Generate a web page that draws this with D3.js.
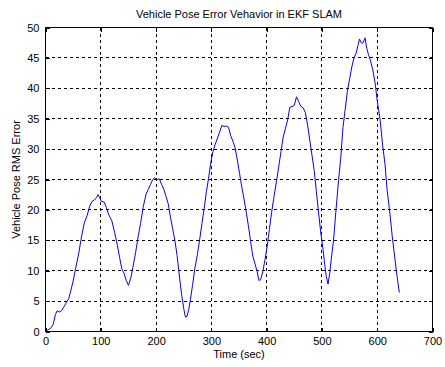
<!DOCTYPE html>
<html>
<head>
<meta charset="utf-8">
<script src="https://cdn.jsdelivr.net/npm/d3@7"></script>
<style>
  html, body { margin: 0; padding: 0; background: #fff; }
  svg { display: block; font-family: "Liberation Sans", Arial, sans-serif; }
</style>
</head>
<body>
<svg id="chart" width="445" height="367"></svg>
<script>
// Time samples (sec) and RMS pose error values
const timeSec = [0, 5, 10, 14, 18, 21, 25, 29, 33, 38, 42, 46, 50, 55, 60, 65, 70, 75, 80, 84,
  88, 92, 95, 98, 101, 106, 110, 114, 120, 125, 130, 134, 138, 142, 146, 150, 154, 158, 163, 168,
  172, 177, 182, 186, 190, 194, 197, 201, 206, 210, 214, 218, 222, 226, 230, 234, 238, 242, 246, 250,
  253, 256, 259, 262, 266, 270, 275, 279, 283, 287, 291, 295, 299, 303, 307, 311, 315, 319, 323, 327,
  331, 335, 339, 343, 347, 351, 355, 359, 363, 367, 371, 375, 379, 383, 386, 389, 393, 397, 401, 405,
  409, 413, 418, 422, 426, 430, 434, 438, 442, 446, 450, 454, 458, 462, 466, 470, 474, 478, 482, 486,
  490, 494, 498, 502, 505, 508, 511, 514, 517, 521, 525, 530, 534, 538, 542, 546, 550, 554, 558, 562,
  565, 568, 571, 574, 578, 581, 584, 588, 592, 596, 600, 605, 610, 614, 618, 623, 627, 632, 636, 640];
const rmsError = [0, 0.3, 0.6, 1.2, 2.8, 3.4, 3.2, 3.4, 4.0, 4.8, 5.4, 6.8, 8.3, 10.6, 12.8, 15.5, 17.8, 19.0, 20.6, 21.4,
  21.6, 22.0, 22.5, 22.0, 21.4, 21.3, 20.4, 19.3, 18.2, 16.3, 14.2, 12.2, 10.3, 9.6, 8.4, 7.6, 8.7, 10.5, 13.0, 15.8,
  17.8, 20.6, 22.6, 23.4, 24.2, 25.0, 25.3, 25.0, 25.1, 24.2, 23.4, 22.2, 21.0, 18.8, 16.9, 15.0, 12.5, 9.3, 6.2, 3.8,
  2.4, 2.5, 3.6, 5.2, 7.6, 10.3, 12.8, 15.2, 17.8, 20.2, 23.0, 25.2, 27.8, 29.6, 30.8, 31.8, 32.8, 33.9, 33.7, 33.8,
  33.6, 32.2, 31.3, 30.2, 28.2, 26.0, 23.8, 21.8, 19.7, 17.4, 14.8, 12.4, 11.1, 9.8, 8.4, 8.5, 9.8, 11.8, 14.0, 16.8,
  19.6, 22.0, 24.8, 27.2, 29.6, 32.0, 33.4, 34.8, 36.9, 37.0, 37.2, 38.6, 37.8, 37.0, 36.8, 36.0, 34.0, 31.5, 29.0, 26.5,
  23.0, 19.5, 16.2, 13.5, 11.0, 9.0, 7.8, 9.5, 12.0, 15.0, 19.5, 24.8, 28.5, 33.5, 36.5, 39.5, 41.5, 43.5, 45.0, 45.8,
  47.0, 48.1, 47.5, 47.4, 48.3, 46.6, 45.6, 44.5, 43.0, 41.0, 38.0, 35.0, 30.5, 27.6, 23.2, 19.4, 15.8, 12.0, 9.0, 6.4];
const xTicks = [0, 100, 200, 300, 400, 500, 600, 700];
const yTicks = [0, 5, 10, 15, 20, 25, 30, 35, 40, 45, 50];

const titleText = "Vehicle Pose Error Vehavior in EKF SLAM";
const xLabel = "Time (sec)";
const yLabel = "Vehicle Pose RMS Error";

const svg = d3.select("#chart");
const plotLeft = 45.5, plotRight = 432.5, plotTop = 27.5, plotBottom = 331.5;

const x = d3.scaleLinear().domain([0, 700]).range([plotLeft, plotRight]);
const y = d3.scaleLinear().domain([0, 50]).range([plotBottom, plotTop]);

// dashed grid
const grid = svg.append("g")
  .attr("stroke", "#000")
  .attr("stroke-width", 1)
  .attr("stroke-dasharray", "3,3")
  .attr("shape-rendering", "crispEdges");
grid.selectAll("line.v").data(xTicks.slice(1, -1)).join("line")
  .attr("class", "v")
  .attr("x1", d => Math.round(x(d) - 0.5) + 0.5).attr("x2", d => Math.round(x(d) - 0.5) + 0.5)
  .attr("y1", plotTop).attr("y2", plotBottom);
grid.selectAll("line.h").data(yTicks.slice(1, -1)).join("line")
  .attr("class", "h")
  .attr("y1", d => Math.round(y(d) - 0.5) + 0.5).attr("y2", d => Math.round(y(d) - 0.5) + 0.5)
  .attr("x1", plotLeft).attr("x2", plotRight);

// axes with inward ticks on all four sides
function styleAxis(g) {
  g.select(".domain").remove();
  g.selectAll("line").attr("stroke", "#000").attr("shape-rendering", "crispEdges");
  g.selectAll("text").attr("fill", "#000").attr("font-size", "11px")
    .attr("font-family", "'Liberation Sans', Arial, sans-serif");
}
svg.append("g").attr("transform", `translate(0,${plotBottom})`)
  .call(d3.axisBottom(x).tickValues(xTicks).tickSizeInner(-4).tickSizeOuter(0).tickPadding(6))
  .call(styleAxis);
svg.append("g").attr("transform", `translate(0,${plotTop})`)
  .call(d3.axisTop(x).tickValues(xTicks).tickSizeInner(-4).tickSizeOuter(0).tickFormat(""))
  .call(styleAxis);
svg.append("g").attr("transform", `translate(${plotLeft},0)`)
  .call(d3.axisLeft(y).tickValues(yTicks).tickSizeInner(-4).tickSizeOuter(0).tickPadding(6))
  .call(styleAxis);
svg.append("g").attr("transform", `translate(${plotRight},0)`)
  .call(d3.axisRight(y).tickValues(yTicks).tickSizeInner(-4).tickSizeOuter(0).tickFormat(""))
  .call(styleAxis);

// axes box
svg.append("rect")
  .attr("x", plotLeft).attr("y", plotTop)
  .attr("width", plotRight - plotLeft).attr("height", plotBottom - plotTop)
  .attr("fill", "none").attr("stroke", "#000").attr("stroke-width", 1)
  .attr("shape-rendering", "crispEdges");

// error curve
const pts = timeSec.map((t, i) => [t, rmsError[i]]);
svg.append("path")
  .datum(pts)
  .attr("fill", "none")
  .attr("stroke", "#0000ff")
  .attr("stroke-width", 1)
  .attr("d", d3.line().x(d => x(d[0])).y(d => y(d[1])));

// labels
const cx = (plotLeft + plotRight) / 2;
svg.append("text").attr("x", cx).attr("y", 18).attr("text-anchor", "middle")
  .attr("font-size", "11px").attr("fill", "#000").text(titleText);
svg.append("text").attr("x", cx).attr("y", 358).attr("text-anchor", "middle")
  .attr("font-size", "11px").attr("fill", "#000").text(xLabel);
svg.append("text")
  .attr("transform", `translate(20,${(plotTop + plotBottom) / 2}) rotate(-90)`)
  .attr("text-anchor", "middle")
  .attr("font-size", "11px").attr("fill", "#000").text(yLabel);
</script>
</body>
</html>
